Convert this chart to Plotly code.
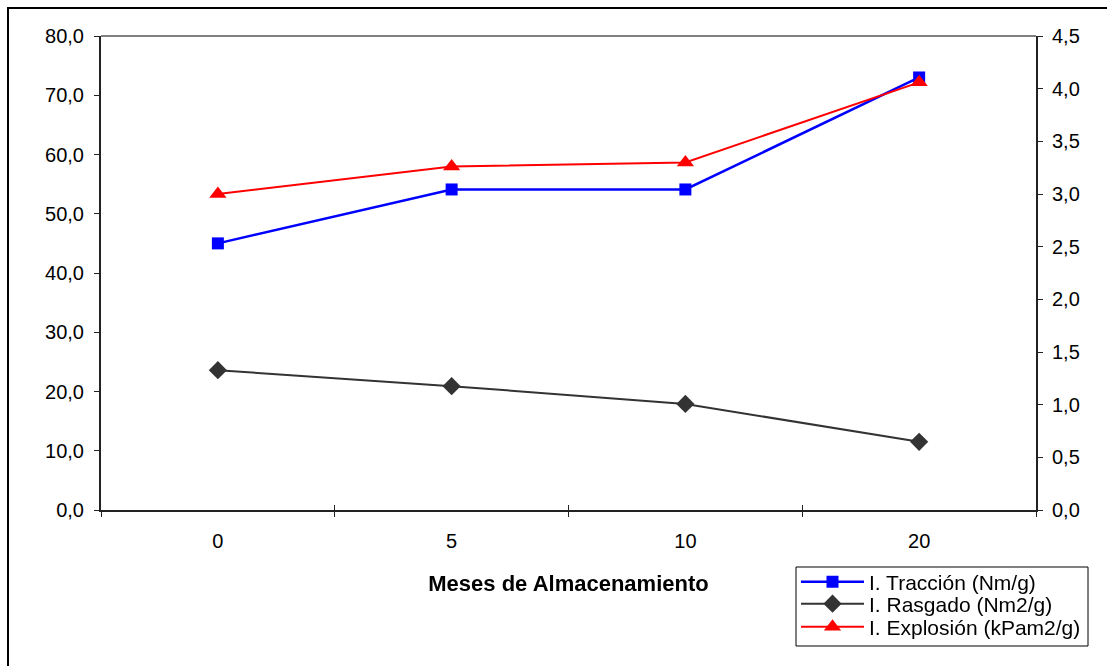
import plotly.graph_objects as go

# Storage months (categorical x axis)
meses = ["0", "5", "10", "20"]

# Paper strength indices
traccion = [45.0, 54.1, 54.1, 73.0]      # Nm/g, left axis
rasgado = [23.6, 20.9, 17.9, 11.5]       # Nm2/g, left axis
explosion = [3.00, 3.26, 3.30, 4.06]     # kPam2/g, right axis

left_ticks = [0, 10, 20, 30, 40, 50, 60, 70, 80]
right_ticks = [0, 0.5, 1.0, 1.5, 2.0, 2.5, 3.0, 3.5, 4.0, 4.5]

FONT = "Liberation Sans, Arial, sans-serif"
AXIS_COLOR = "#222222"

# pixel geometry of the plot area, used to place paper-referenced items
PX_L, PX_R, PX_T, PX_B = 101, 1036, 36, 510


def px_x(px):
    return (px - PX_L) / (PX_R - PX_L)


def px_y(py):
    return (PX_B - py) / (PX_B - PX_T)


fig = go.Figure()

fig.add_trace(go.Scatter(
    x=meses, y=traccion, name="I. Tracción (Nm/g)", mode="lines+markers",
    line=dict(color="#0000FF", width=2.5),
    marker=dict(symbol="square", size=12, color="#0000FF"),
    xaxis="x", yaxis="y", legend="legend",
))
fig.add_trace(go.Scatter(
    x=meses, y=rasgado, name="I. Rasgado (Nm2/g)", mode="lines+markers",
    line=dict(color="#333333", width=2),
    marker=dict(symbol="diamond", size=14, color="#333333"),
    xaxis="x", yaxis="y", legend="legend2",
))
fig.add_trace(go.Scatter(
    x=meses, y=explosion, name="I. Explosión (kPam2/g)", mode="lines+markers",
    line=dict(color="#FF0000", width=2),
    marker=dict(symbol="triangle-up", size=15, color="#FF0000"),
    xaxis="x", yaxis="y2", legend="legend3",
))
# invisible carrier so the inner-tick category axis knows the categories
fig.add_trace(go.Scatter(
    x=meses, y=rasgado, mode="markers", opacity=0, showlegend=False,
    hoverinfo="skip", xaxis="x2", yaxis="y",
))

tick_font = dict(family=FONT, size=20, color="black")


def legend_row(py):
    return dict(
        x=px_x(796), y=px_y(py), xanchor="left", yanchor="middle",
        borderwidth=0, bgcolor="rgba(0,0,0,0)",
        font=dict(family=FONT, size=21, color="black"),
        itemwidth=63,
    )


fig.update_layout(
    width=1107, height=666,
    margin=dict(l=PX_L, r=1107 - PX_R, t=PX_T, b=666 - PX_B, autoexpand=False),
    paper_bgcolor="white", plot_bgcolor="white",
    separators=",.",
    font=dict(family=FONT, size=20, color="black"),
    showlegend=True,
    legend=legend_row(582),
    legend2=legend_row(604),
    legend3=legend_row(627),
    xaxis=dict(
        type="category", categoryorder="array", categoryarray=meses,
        range=[-0.5, 3.5], tickson="boundaries",
        ticks="outside", ticklen=5, tickwidth=1, tickcolor=AXIS_COLOR,
        showline=True, linecolor=AXIS_COLOR, linewidth=2,
        showgrid=False, zeroline=False, automargin=False,
        tickfont=tick_font, ticklabelstandoff=12,
        title=dict(text="<b>Meses de Almacenamiento</b>",
                   font=dict(family=FONT, size=22, color="black"), standoff=25),
    ),
    xaxis2=dict(
        type="category", categoryorder="array", categoryarray=meses,
        overlaying="x", matches="x", anchor="y", side="bottom",
        tickson="boundaries", ticks="inside", ticklen=5, tickwidth=1,
        tickcolor=AXIS_COLOR, showticklabels=False, showline=False,
        showgrid=False, zeroline=False,
    ),
    yaxis=dict(
        range=[0, 80], tickvals=left_ticks, tickformat=".1f",
        ticks="outside", ticklen=5, tickwidth=1, tickcolor=AXIS_COLOR,
        showline=True, linecolor=AXIS_COLOR, linewidth=2,
        showgrid=False, zeroline=False, tickfont=tick_font,
        ticklabelstandoff=6, automargin=False,
    ),
    yaxis2=dict(
        range=[0, 4.5], tickvals=right_ticks, tickformat=".1f",
        overlaying="y", side="right", anchor="x",
        ticks="outside", ticklen=5, tickwidth=1, tickcolor=AXIS_COLOR,
        showline=True, linecolor=AXIS_COLOR, linewidth=2,
        showgrid=False, zeroline=False, tickfont=tick_font,
        ticklabelstandoff=5, automargin=False,
    ),
    yaxis3=dict(
        range=[0, 80], tickvals=left_ticks, overlaying="y", side="left",
        anchor="x", ticks="inside", ticklen=6, tickwidth=1,
        tickcolor=AXIS_COLOR, showticklabels=False, showline=False,
        showgrid=False, zeroline=False,
    ),
    yaxis4=dict(
        range=[0, 4.5], tickvals=right_ticks, overlaying="y", side="right",
        anchor="x", ticks="inside", ticklen=6, tickwidth=1,
        tickcolor=AXIS_COLOR, showticklabels=False, showline=False,
        showgrid=False, zeroline=False,
    ),
)

# grey top edge of the plot area
fig.add_shape(type="line", xref="paper", yref="paper", x0=0, x1=1, y0=1, y1=1,
              line=dict(color="#808080", width=2))
# outer chart frame
fig.add_shape(type="rect", xref="paper", yref="paper",
              x0=px_x(8), x1=px_x(1130), y0=px_y(700), y1=px_y(8),
              line=dict(color="black", width=2), layer="below")
# legend frame enclosing the three legend rows
fig.add_shape(type="rect", xref="paper", yref="paper",
              x0=px_x(796), x1=px_x(1088), y0=px_y(646), y1=px_y(567),
              line=dict(color="black", width=1), fillcolor="white", layer="above")

fig.write_html("out.html")
